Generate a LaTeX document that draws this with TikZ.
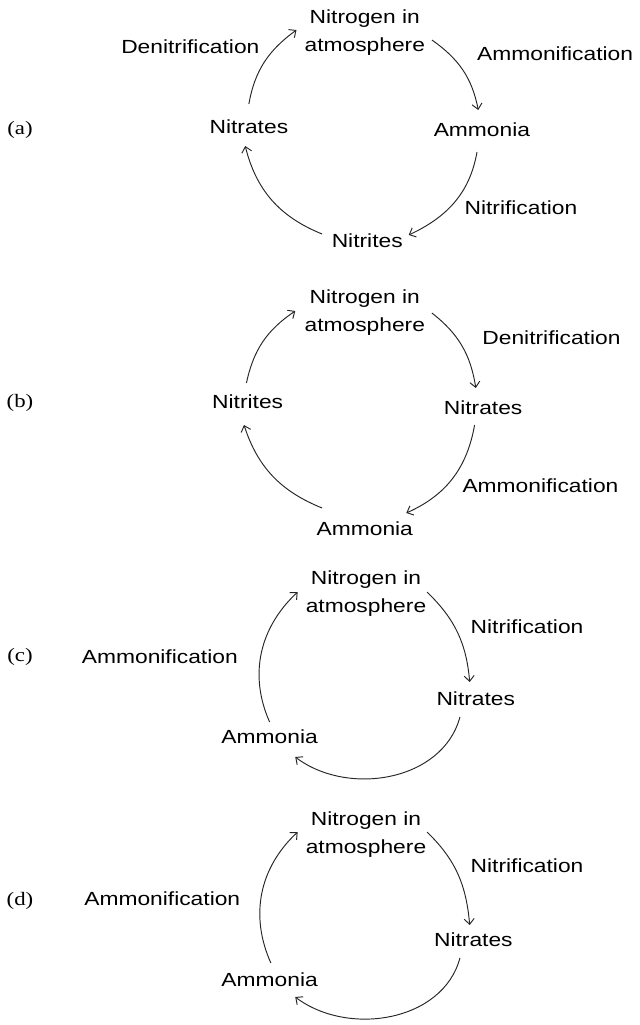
\documentclass[tikz,border=0pt]{standalone}
\usepackage{fontspec}
\usepackage{graphicx}
\setmainfont{Liberation Sans}
\newfontfamily\labserif{Liberation Serif}
\usetikzlibrary{arrows.meta}
\newcommand{\stretchtxt}[1]{\scalebox{1.2}[1]{#1}}
\tikzset{
  x=1.22pt, y=1pt,
  term/.style={inner sep=0pt, font=\fontsize{19}{28}\selectfont, align=center},
  proc/.style={inner sep=0pt, font=\fontsize{19}{28}\selectfont},
  optlab/.style={inner sep=0pt, font=\labserif\fontsize{19}{22}\selectfont},
  cyc/.style={line width=0.95pt, draw=black!85, -{Straight Barb[length=5.5pt,width=10pt,line width=0.95pt]}},
}
\begin{document}
\begin{tikzpicture}
\useasboundingbox (0,0) rectangle (523.8,-1025);
% ---------- (a)
\node[optlab] (la) at (16.4,-130) {\stretchtxt{(a)}};
\node[term] (aN) at (299,-33) {\stretchtxt{Nitrogen in}\\\stretchtxt{atmosphere}};
\node[term] (aNitrates) at (204,-127) {\stretchtxt{Nitrates}};
\node[term] (aAmmonia) at (395,-130) {\stretchtxt{Ammonia}};
\node[term] (aNitrites) at (301,-241) {\stretchtxt{Nitrites}};
\node[proc] (aDen) at (156,-47) {\stretchtxt{Denitrification}};
\node[proc] (aAmm) at (455,-54) {\stretchtxt{Ammonification}};
\node[proc] (aNit) at (427,-208) {\stretchtxt{Nitrification}};
\draw[cyc] ([shift={(0,23)}]aNitrates.center) to[out=80,in=-144] ([shift={(-56,3)}]aN.center);
\draw[cyc] ([shift={(55,-7)}]aN.center) to[out=-35,in=101] ([shift={(-3,20)}]aAmmonia.center);
\draw[cyc] ([shift={(-4,-22)}]aAmmonia.center) to[out=-100,in=25] ([shift={(34,6)}]aNitrites.center);
\draw[cyc] ([shift={(-37,7)}]aNitrites.center) to[out=158,in=-76] ([shift={(-3,-19)}]aNitrates.center);
% ---------- (b)
\node[optlab] (lb) at (16.4,-403) {\stretchtxt{(b)}};
\node[term] (bN) at (299,-313) {\stretchtxt{Nitrogen in}\\\stretchtxt{atmosphere}};
\node[term] (bNitrites) at (203,-402) {\stretchtxt{Nitrites}};
\node[term] (bNitrates) at (396,-408) {\stretchtxt{Nitrates}};
\node[term] (bAmmonia) at (299,-529) {\stretchtxt{Ammonia}};
\node[proc] (bDen) at (452,-338) {\stretchtxt{Denitrification}};
\node[proc] (bAmm) at (443,-486) {\stretchtxt{Ammonification}};
\draw[cyc] ([shift={(-1,19)}]bNitrites.center) to[out=78,in=-146] ([shift={(-57,2)}]bN.center);
\draw[cyc] ([shift={(55,0)}]bN.center) to[out=-38,in=99] ([shift={(-6,20)}]bNitrates.center);
\draw[cyc] ([shift={(-7,-17)}]bNitrates.center) to[out=-100,in=24] ([shift={(34,16)}]bAmmonia.center);
\draw[cyc] ([shift={(-35,21)}]bAmmonia.center) to[out=158,in=-72] ([shift={(-3,-23)}]bNitrites.center);
% ---------- (c)
\node[optlab] (lc) at (16.4,-657) {\stretchtxt{(c)}};
\node[term] (cN) at (300,-594) {\stretchtxt{Nitrogen in}\\\stretchtxt{atmosphere}};
\node[term] (cNitrates) at (390,-699) {\stretchtxt{Nitrates}};
\node[term] (cAmmonia) at (221,-737) {\stretchtxt{Ammonia}};
\node[proc] (cAmm) at (131,-657) {\stretchtxt{Ammonification}};
\node[proc] (cNit) at (432,-627) {\stretchtxt{Nitrification}};
\draw[cyc] ([shift={(0,15)}]cAmmonia.center) to[out=114,in=-137] ([shift={(-56,2)}]cN.center);
\draw[cyc] ([shift={(50,2)}]cN.center) to[out=-44,in=95] ([shift={(-5,17)}]cNitrates.center);
\draw[cyc] ([shift={(-13,-18)}]cNitrates.center) to[out=-105,in=-37] ([shift={(21,-20)}]cAmmonia.center);
% ---------- (d)
\node[optlab] (ld) at (16.4,-901) {\stretchtxt{(d)}};
\node[term] (dN) at (300,-835) {\stretchtxt{Nitrogen in}\\\stretchtxt{atmosphere}};
\node[term] (dNitrates) at (388,-940) {\stretchtxt{Nitrates}};
\node[term] (dAmmonia) at (221,-980) {\stretchtxt{Ammonia}};
\node[proc] (dAmm) at (133,-899) {\stretchtxt{Ammonification}};
\node[proc] (dNit) at (432,-866) {\stretchtxt{Nitrification}};
\draw[cyc] ([shift={(1,17)}]dAmmonia.center) to[out=114,in=-137] ([shift={(-56,3)}]dN.center);
\draw[cyc] ([shift={(50,3)}]dN.center) to[out=-44,in=95] ([shift={(-3,15)}]dNitrates.center);
\draw[cyc] ([shift={(-11,-18)}]dNitrates.center) to[out=-105,in=-37] ([shift={(21,-17)}]dAmmonia.center);
\end{tikzpicture}
\end{document}
